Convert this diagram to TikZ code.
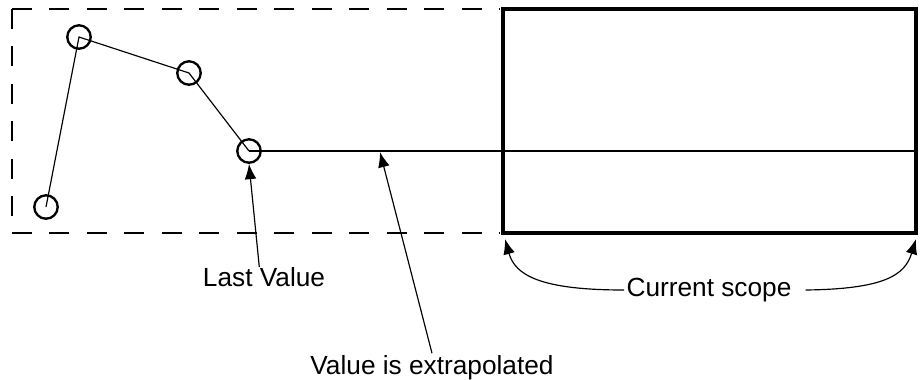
\documentclass[tikz,border=0pt]{standalone}
\usepackage{fontspec}
\setmainfont{Liberation Sans}
\usetikzlibrary{arrows.meta}
\begin{document}
\begin{tikzpicture}[>={Latex[length=13pt,width=10pt]}, x=0.03cm, y=-0.03cm,
  pt/.style={circle, draw, line width=2pt, minimum size=20pt, inner sep=0pt},
  lbl/.style={font=\fontsize{22.4}{26}\selectfont, inner sep=0pt},
  known/.style={line width=2pt, dash pattern=on 17pt off 15pt}]
\useasboundingbox (0,0) rectangle (920,379);
% Region of known values
\draw[known] (12,9) -- (500,9);
\draw[known] (12,233) -- (500,233);
\draw[known] (12,9) -- (12,233);
% Current scope
\draw[line width=3pt] (503,9) rectangle (916,233);
% Sample points
\node[pt] (p1) at (46,207) {};
\node[pt] (p2) at (79,37) {};
\node[pt] (p3) at (189,73) {};
\node[pt] (p4) at (249,151) {};
\coordinate (end) at (916,151);
\draw[line width=1pt] (p1.center) -- (p2.center) -- (p3.center) -- (p4.center);
\draw[line width=1.8pt] (p4.center) -- (end);
% Labels
\node[lbl] (last) at (264,277) {Last Value};
\node[lbl] (extra) at (432,368) {Value is extrapolated};
\node[lbl] (scope) at (709,290) {Current scope};
\coordinate (hit) at (380,152);
\coordinate (sl) at (505,239);
\coordinate (sr) at (916,239);
\draw[->, line width=1pt] ([xshift=-4pt]last.north) -- (p4.south);
\draw[->, line width=1pt] ([yshift=2pt]extra.north) -- (hit);
\draw[->, line width=1pt] ([xshift=-2pt]scope.west) .. controls (540,290) and (515,275) .. (sl);
\draw[->, line width=1pt] ([xshift=12pt]scope.east) .. controls (885,289) and (905,275) .. (sr);
\end{tikzpicture}
\end{document}
